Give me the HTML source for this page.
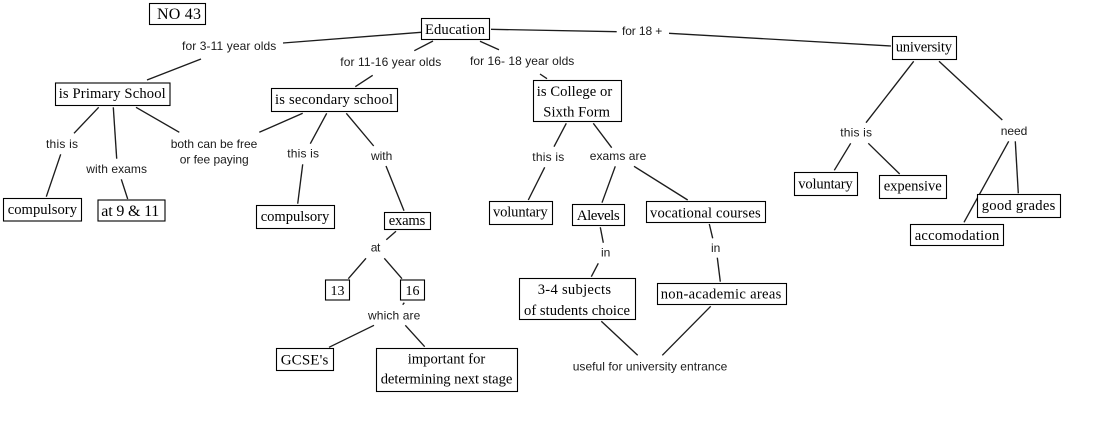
<!DOCTYPE html>
<html>
<head>
<meta charset="utf-8">
<style>
html,body{margin:0;padding:0;background:#fff;width:1102px;height:432px;overflow:hidden}
svg{display:block}
.l line{stroke:#1c1c1c;stroke-width:1.35}
.b rect{fill:#fff;stroke:#000;stroke-width:1.1}
.t text{font-family:"Liberation Serif",serif;font-size:14.6px;fill:#000}
.s text{font-family:"Liberation Sans",sans-serif;font-size:12px;fill:#1a1a1a}
</style>
</head>
<body>
<svg width="1102" height="432" viewBox="0 0 1102 432" xmlns="http://www.w3.org/2000/svg">
<g class="l">
<line x1="283" y1="43" x2="421" y2="32.3"/>
<line x1="201" y1="59" x2="147" y2="80"/>
<line x1="98.7" y1="107.3" x2="74" y2="133.3"/>
<line x1="60.7" y1="154.3" x2="46.3" y2="196.7"/>
<line x1="113.3" y1="107.3" x2="116.7" y2="158.7"/>
<line x1="121.3" y1="179.3" x2="127.7" y2="199"/>
<line x1="136" y1="107.3" x2="179.3" y2="132.3"/>
<line x1="259.3" y1="132.3" x2="302.7" y2="113.3"/>
<line x1="326.7" y1="113.3" x2="310.3" y2="143.7"/>
<line x1="302.7" y1="164.3" x2="297.7" y2="203.7"/>
<line x1="346.3" y1="113.3" x2="373.7" y2="146"/>
<line x1="386" y1="166" x2="404" y2="210.7"/>
<line x1="433" y1="41" x2="414.3" y2="50.7"/>
<line x1="372.7" y1="75.3" x2="355.3" y2="86.7"/>
<line x1="480" y1="41.3" x2="499" y2="49.7"/>
<line x1="540" y1="74" x2="547" y2="78.7"/>
<line x1="566.3" y1="123.3" x2="554" y2="146.7"/>
<line x1="544.7" y1="167.3" x2="528.3" y2="200"/>
<line x1="593.3" y1="123.3" x2="611.7" y2="147.7"/>
<line x1="615.3" y1="166.3" x2="602" y2="202.7"/>
<line x1="634" y1="166.3" x2="687.7" y2="200"/>
<line x1="491" y1="29.3" x2="616.7" y2="31.7"/>
<line x1="669" y1="33.3" x2="891" y2="46"/>
<line x1="600.3" y1="227.3" x2="603.3" y2="242.7"/>
<line x1="598.3" y1="263.3" x2="591.3" y2="276.7"/>
<line x1="709.3" y1="224" x2="712.7" y2="238.3"/>
<line x1="717.3" y1="257.7" x2="720.3" y2="281.7"/>
<line x1="601.3" y1="321.3" x2="637.7" y2="355.3"/>
<line x1="710.7" y1="306.3" x2="662.3" y2="355.3"/>
<line x1="396" y1="231.3" x2="386.3" y2="239.7"/>
<line x1="366" y1="258.3" x2="348.3" y2="278.7"/>
<line x1="384.3" y1="258.3" x2="402" y2="278.7"/>
<line x1="404.3" y1="302.7" x2="402.7" y2="304.7"/>
<line x1="374" y1="325.3" x2="329" y2="347.3"/>
<line x1="405.3" y1="325.3" x2="424.7" y2="346.7"/>
<line x1="913.7" y1="61.3" x2="866" y2="122.7"/>
<line x1="850.7" y1="143.3" x2="834.3" y2="170.3"/>
<line x1="868.3" y1="143.3" x2="899.7" y2="174"/>
<line x1="939" y1="61.3" x2="1002.3" y2="120"/>
<line x1="1008.7" y1="141.3" x2="964" y2="222.3"/>
<line x1="1015.3" y1="141.3" x2="1018.3" y2="193.3"/>
</g>
<g class="b">
<rect x="149.5" y="3.5" width="56" height="21"/>
<rect x="55.5" y="83" width="114.5" height="22.5"/>
<rect x="3.5" y="198.5" width="78" height="22.5"/>
<rect x="98" y="200" width="67" height="21"/>
<rect x="271.5" y="88.5" width="126" height="23"/>
<rect x="256.5" y="205.5" width="78" height="23"/>
<rect x="384.5" y="212.5" width="46" height="17"/>
<rect x="325.5" y="280" width="24" height="20"/>
<rect x="400.5" y="280" width="24" height="20"/>
<rect x="276.5" y="348.5" width="57" height="22"/>
<rect x="376.5" y="348.5" width="141" height="43"/>
<rect x="421.5" y="18.5" width="68" height="21"/>
<rect x="533.5" y="80.5" width="88" height="41"/>
<rect x="489.5" y="201.5" width="63" height="23"/>
<rect x="572.5" y="204.5" width="52" height="21"/>
<rect x="646.5" y="201.5" width="119" height="21"/>
<rect x="519.5" y="278.5" width="116" height="41"/>
<rect x="657.5" y="283.5" width="129" height="21"/>
<rect x="892.5" y="36.5" width="64" height="23"/>
<rect x="794.5" y="172.5" width="63" height="23"/>
<rect x="879.5" y="175.5" width="67" height="23"/>
<rect x="910.5" y="224.5" width="93" height="21"/>
<rect x="977.5" y="194.5" width="83" height="23"/>
</g>
<g class="t">
<text x="157" y="19" textLength="44" style="font-size:16px">NO 43</text>
<text x="58.7" y="98" textLength="107">is Primary School</text>
<text x="7.7" y="214" textLength="69.3">compulsory</text>
<text x="101.3" y="216" textLength="58" style="font-size:16px">at 9 &amp; 11</text>
<text x="275" y="104" textLength="118">is secondary school</text>
<text x="260.7" y="221" textLength="68.6">compulsory</text>
<text x="388.7" y="225" textLength="36.6">exams</text>
<text x="330.5" y="295" style="font-size:14px">13</text>
<text x="405.5" y="295" style="font-size:14px">16</text>
<text x="280.7" y="364.3" textLength="47.6" style="font-size:15px">GCSE's</text>
<text x="407.7" y="363.7" textLength="77.6">important for</text>
<text x="380.7" y="383.3" textLength="131.6">determining next stage</text>
<text x="425" y="34" textLength="60">Education</text>
<text x="536.7" y="96" textLength="75.6">is College or</text>
<text x="543.3" y="116.7" textLength="66.7">Sixth Form</text>
<text x="493" y="216.7" textLength="54.7">voluntary</text>
<text x="576.7" y="220" textLength="43" style="font-size:15px">Alevels</text>
<text x="650" y="217.3" textLength="110.7">vocational courses</text>
<text x="537.7" y="294" textLength="73.3">3-4 subjects</text>
<text x="524" y="315" textLength="106">of students choice</text>
<text x="660.7" y="298.7" textLength="120.6">non-academic areas</text>
<text x="895.7" y="51.7" textLength="56.3">university</text>
<text x="798.3" y="188.3" textLength="54.4">voluntary</text>
<text x="883.7" y="190.7" textLength="58">expensive</text>
<text x="914.7" y="240" textLength="84.6">accomodation</text>
<text x="981.7" y="210" textLength="73.6">good grades</text>
</g>
<g class="s">
<text x="182" y="50" textLength="94.3">for 3-11 year olds</text>
<text x="340.3" y="66" textLength="101">for 11-16 year olds</text>
<text x="470" y="65" textLength="104.3">for 16- 18 year olds</text>
<text x="622" y="35" textLength="40.3">for 18 +</text>
<text x="46" y="148" textLength="32">this is</text>
<text x="86.3" y="173" textLength="60.7">with exams</text>
<text x="170.7" y="148" textLength="86.6">both can be free</text>
<text x="179.7" y="163.3" textLength="69">or fee paying</text>
<text x="287.3" y="157.7" textLength="31.7">this is</text>
<text x="371" y="160" textLength="21.3">with</text>
<text x="370.7" y="251.7" textLength="9.6">at</text>
<text x="368" y="319.3" textLength="52.3">which are</text>
<text x="532.3" y="161" textLength="32">this is</text>
<text x="589.7" y="160" textLength="56.6">exams are</text>
<text x="601" y="256.7">in</text>
<text x="711" y="252">in</text>
<text x="572.7" y="370.7" textLength="154.6">useful for university entrance</text>
<text x="840.3" y="136.7" textLength="31.7">this is</text>
<text x="1000.7" y="135" textLength="26.6">need</text>
</g>
</svg>
</body>
</html>
